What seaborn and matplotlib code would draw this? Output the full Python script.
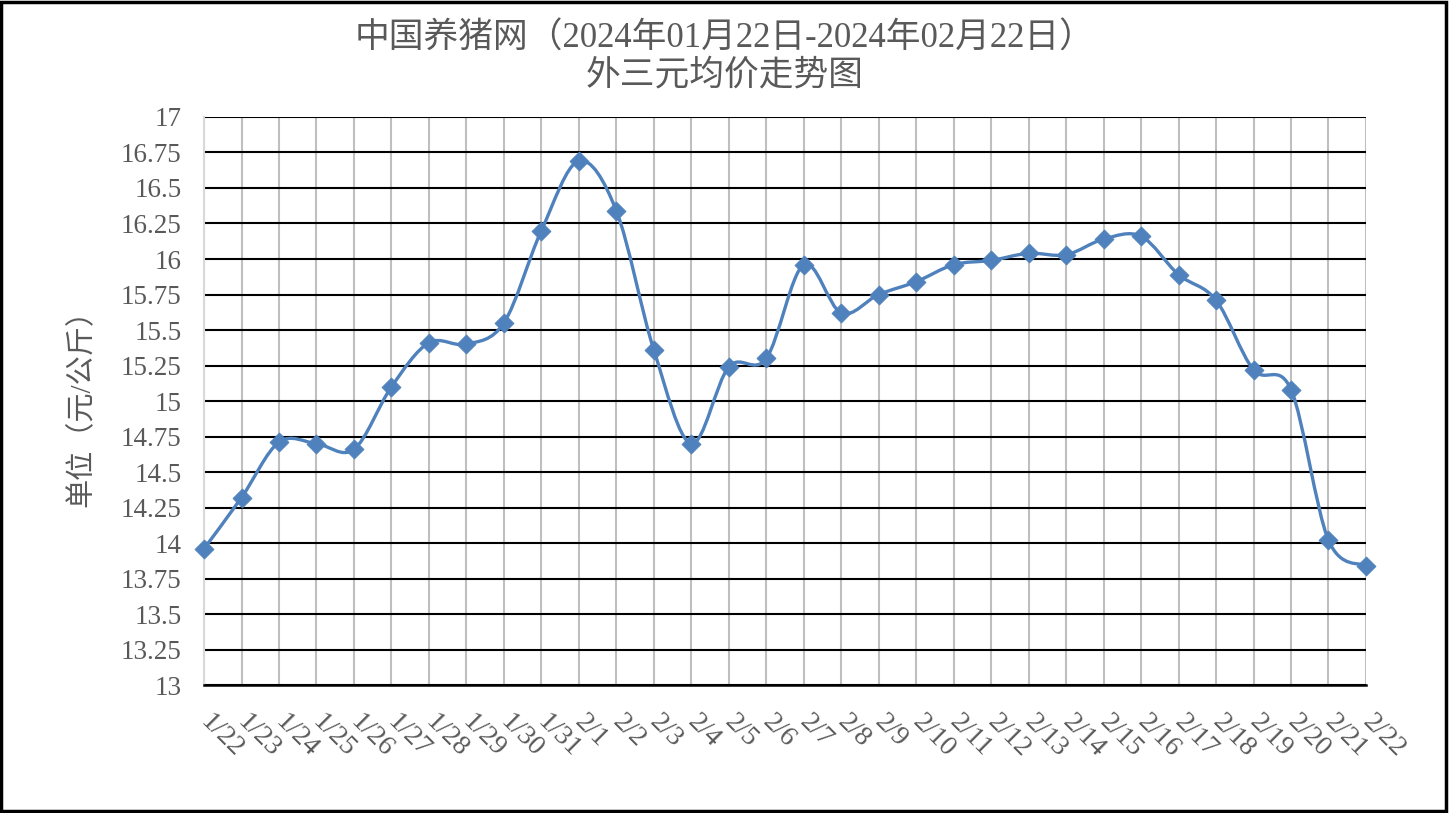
# 中国养猪网 外三元均价走势图 (2024-01-22 ~ 2024-02-22)
import matplotlib
matplotlib.use('Agg')
import matplotlib.pyplot as plt
from matplotlib.path import Path
from matplotlib.patches import PathPatch, Rectangle
import numpy as np
import pandas as pd
import seaborn as sns

dates = ['1/22', '1/23', '1/24', '1/25', '1/26', '1/27', '1/28', '1/29', '1/30', '1/31',
         '2/1', '2/2', '2/3', '2/4', '2/5', '2/6', '2/7', '2/8', '2/9', '2/10', '2/11',
         '2/12', '2/13', '2/14', '2/15', '2/16', '2/17', '2/18', '2/19', '2/20', '2/21', '2/22']
prices = [13.96, 14.32, 14.71, 14.70, 14.66, 15.10, 15.41, 15.40, 15.55, 16.20,
          16.69, 16.34, 15.36, 14.70, 15.24, 15.30, 15.96, 15.62, 15.75, 15.84, 15.96,
          15.99, 16.04, 16.03, 16.14, 16.16, 15.89, 15.71, 15.22, 15.08, 14.02, 13.84]
y_ticks = [13, 13.25, 13.5, 13.75, 14, 14.25, 14.5, 14.75, 15, 15.25, 15.5, 15.75,
           16, 16.25, 16.5, 16.75, 17]

title = '中国养猪网（2024年01月22日-2024年02月22日）\n外三元均价走势图'
ylabel = '单位（元/公斤）'

df = pd.DataFrame({'idx': range(len(dates)), 'date': dates, 'price': prices})

sns.set_style('white')
plt.rcParams['font.family'] = ['Liberation Serif', 'Noto Sans CJK SC', 'DejaVu Sans']

line_color = '#4F81BD'
text_color = '#595959'

fig = plt.figure(figsize=(14.49, 8.13), dpi=100)
ax = fig.add_axes([0.1408, 0.1574, 0.8019, 0.6987])

# smoothed line (Excel style bezier through the points)
pts = df[['idx', 'price']].to_numpy(dtype=float)
n = len(pts)
verts = [pts[0]]
codes = [Path.MOVETO]
for i in range(n - 1):
    p0 = pts[i - 1] if i > 0 else pts[i]
    p1 = pts[i]
    p2 = pts[i + 1]
    p3 = pts[i + 2] if i + 2 < n else pts[i + 1]
    c1 = p1 + (p2 - p0) / 6.0
    c2 = p2 - (p3 - p1) / 6.0
    verts += [c1, c2, p2]
    codes += [Path.CURVE4] * 3
ax.add_patch(PathPatch(Path(verts, codes), facecolor='none', edgecolor=line_color,
                       lw=2.4, zorder=3, clip_on=False))

sns.scatterplot(data=df, x='idx', y='price', ax=ax, marker='D', s=95,
                color=line_color, edgecolor=line_color, linewidth=0.5,
                zorder=4, clip_on=False)

ax.set_xlim(0, len(dates) - 1)
ax.set_ylim(13, 17)
ax.set_yticks(y_ticks)
ax.set_yticklabels([f'{v:g}' for v in y_ticks], fontsize=19.5, color=text_color)
ax.set_xticks(df['idx'])
ax.set_xticklabels(dates, fontsize=20, color=text_color, rotation=-45,
                   ha='left', va='center', rotation_mode='anchor')

ax.grid(axis='y', color='black', lw=1.5)
ax.grid(axis='x', color='#BFBFBF', lw=1.5)
ax.tick_params(axis='x', direction='in', length=7.5, width=1.5, color='black', pad=24)
ax.tick_params(axis='y', direction='in', length=9, width=1.5, color='#D9D9D9', pad=16)

for side in ['top', 'right']:
    ax.spines[side].set_visible(False)
ax.spines['left'].set_color('#D9D9D9')
ax.spines['left'].set_linewidth(1.5)
ax.spines['bottom'].set_color('black')
ax.spines['bottom'].set_linewidth(1.8)

ax.set_xlabel('')
ax.set_ylabel(ylabel, fontsize=21, color=text_color, labelpad=18)

fig.text(0.5, 0.972, title, ha='center', va='top', fontsize=25, color=text_color,
         linespacing=1.15)

fig.patches.append(Rectangle((0.001, 0.002), 0.997, 0.996, transform=fig.transFigure,
                             fill=False, edgecolor='black', lw=2.5))

plt.savefig('out.png', dpi=100)
